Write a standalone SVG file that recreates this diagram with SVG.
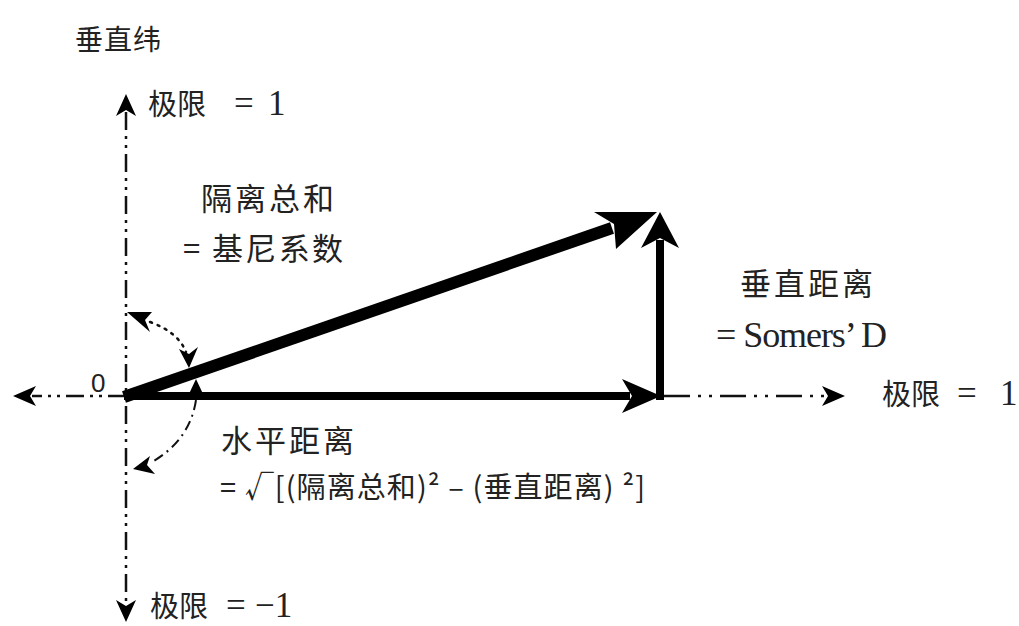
<svg xmlns="http://www.w3.org/2000/svg" width="1019" height="626" viewBox="0 0 1019 626">
<style>
.t{font-family:"Noto Sans CJK SC","Noto Sans",sans-serif;fill:#222;}
.s{font-family:"Noto Sans CJK SC",sans-serif;fill:#222;}
.n{font-family:"Liberation Serif",serif;font-size:35px;}
.axis{stroke:#111;stroke-width:2.5;fill:none;stroke-dasharray:18 6 3 6 3 6;}
.thick{stroke:#000;fill:none;stroke-linecap:butt;}
.dots{stroke:#111;stroke-width:2.5;fill:none;stroke-dasharray:2 6;stroke-linecap:round;}
.dd{stroke:#111;stroke-width:2;fill:none;stroke-dasharray:10 5 2 5;}
.head{fill:#000;}
</style>
<rect width="1019" height="626" fill="#fff"/>
<g id="title"><text class="s" x="75" y="50" font-size="28" letter-spacing="1">垂直纬</text></g>
<g id="connectors">
  <!-- axes -->
  <line class="axis" x1="126" y1="112" x2="126" y2="604"/>
  <line class="axis" x1="126" y1="396" x2="32" y2="396"/>
  <line class="axis" x1="664" y1="396" x2="826" y2="396" style="stroke-dasharray:26 8 3 8 3 8"/>
  <polygon class="head" points="126,94 136,116 126,110 116,116"/>
  <polygon class="head" points="126,622 136,600 126,606 116,600"/>
  <polygon class="head" points="13,396 36,386 30,396 36,406"/>
  <polygon class="head" points="845,396 822,386 828,396 822,406"/>
  <!-- thick vectors -->
  <line class="thick" x1="124" y1="396" x2="630" y2="396" stroke-width="8"/>
  <polygon class="head" points="661,396 622,379 632,396 622,413"/>
  <line class="thick" x1="660" y1="400" x2="660" y2="240" stroke-width="8"/>
  <polygon class="head" points="660,212 641,248 660,238 679,248"/>
  <line class="thick" x1="124" y1="397" x2="612" y2="228" stroke-width="12"/>
  <polygon class="head" points="657,212 594,212 614,224 616,249"/>
  <!-- upper dotted arc -->
  <path class="dots" d="M150,322 Q178,332 186,352"/>
  <polygon class="head" points="127,312 152,312 145,320 150,332"/>
  <polygon class="head" points="189,368 179,349 189,354 198,347"/>
  <!-- lower dash-dot arc -->
  <path class="dd" d="M196,400 Q190,440 152,462"/>
  <polygon class="head" points="196,379 188,396 196,392 204,396"/>
  <polygon class="head" points="133,469 150,456 147,465 155,474"/>
</g>
<g id="label-top"><text class="t" y="115" font-size="29"><tspan x="148">极限</tspan><tspan class="n" x="234">=</tspan><tspan class="n" x="268">1</tspan></text></g>
<g id="label-gini"><text class="t" x="201" y="210" font-size="31" letter-spacing="3">隔离总和</text>
<text class="t" x="183" y="260" font-size="31" textLength="160">= 基尼系数</text></g>
<g id="label-somers"><text class="t" x="740" y="295" font-size="31" letter-spacing="3">垂直距离</text>
<text x="716" y="347" font-size="36" textLength="171" font-family="Liberation Serif,serif" fill="#222">= Somers’ D</text></g>
<g id="label-zero"><text x="91" y="392" font-size="26" font-family="Liberation Sans,sans-serif" fill="#222">0</text></g>
<g id="label-right"><text class="t" y="405" font-size="29"><tspan x="882">极限</tspan><tspan class="n" x="957">=</tspan><tspan class="n" x="1000">1</tspan></text></g>
<g id="label-horiz"><text class="t" x="221" y="452" font-size="31" letter-spacing="3">水平距离</text>
<text class="t" x="220" y="498" font-size="29" textLength="425">= √[(隔离总和)² – (垂直距离) ²]</text></g>
<g id="label-bottom"><text class="t" y="617" font-size="29"><tspan x="150">极限</tspan><tspan class="n" x="226">=</tspan><tspan class="n" x="255">−1</tspan></text></g>
</svg>
